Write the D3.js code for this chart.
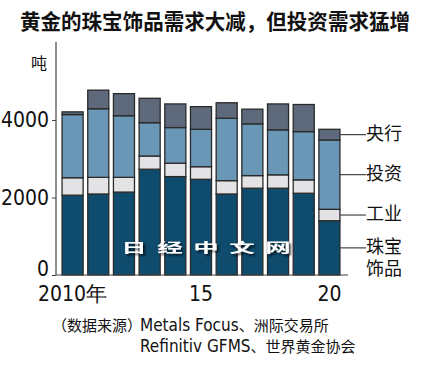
<!DOCTYPE html>
<html><head><meta charset="utf-8">
<script src="https://cdn.jsdelivr.net/npm/d3@7"></script>
<style>
html,body{margin:0;padding:0;background:#fff;}
svg{display:block;}
</style></head>
<body>
<script>
const years = [2010, 2011, 2012, 2013, 2014, 2015, 2016, 2017, 2018, 2019, 2020];
const jewelry = [2060, 2090, 2140, 2730, 2540, 2470, 2090, 2240, 2240, 2110, 1400];
const industry = [450, 430, 380, 340, 345, 325, 345, 325, 345, 345, 295];
const investment = [1630, 1770, 1590, 860, 920, 965, 1610, 1335, 1160, 1245, 1790];
const centralBank = [70, 480, 570, 630, 610, 585, 400, 380, 670, 700, 275];
const seriesNames = ["珠宝饰品", "工业", "投资", "央行"];
const yTicks = [0, 2000, 4000];
const xTickYears = [2010, 2015, 2020];
const xTickLabels = ["2010年", "15", "20"];
const title = "黄金的珠宝饰品需求大减，但投资需求猛增";
const unit = "吨";
const sourceLabel = "（数据来源）";
const sourceLines = [["Metals Focus", "、洲际交易所"], ["Refinitiv GFMS", "、世界黄金协会"]];
const watermark = ["日", "经", "中", "文", "网"];

const colors = ["#0e4b6d", "#e3e3e6", "#6b97b7", "#5e6a7b"];
const numFont = "'Liberation Sans Narrow','Arial Narrow','DejaVu Sans Condensed',sans-serif";
const cjkFont = "'Noto Sans CJK SC','Noto Sans CJK JP',sans-serif";
const legendFont = "'Liberation Sans','Noto Sans CJK SC',sans-serif";

const W = 430, H = 373;
const svg = d3.select("body").append("svg").attr("width", W).attr("height", H);

const table = years.map((y, i) => ({year: y, "珠宝饰品": jewelry[i], "工业": industry[i], "投资": investment[i], "央行": centralBank[i]}));
const stacked = d3.stack().keys(seriesNames)(table);

const x = d3.scaleBand().domain(years).range([59.5, 342.5]).paddingInner(0.18).paddingOuter(0.1);
const y = d3.scaleLinear().domain([0, 4000]).range([275, 120]);

// title
svg.append("text").attr("x", 20).attr("y", 28.5)
  .attr("font-family", cjkFont).attr("font-weight", "bold").attr("font-size", 21)
  .attr("textLength", 390).attr("lengthAdjust", "spacingAndGlyphs")
  .attr("fill", "#111").text(title);

// unit
svg.append("text").attr("x", 31).attr("y", 69)
  .attr("font-family", cjkFont).attr("font-size", 16).attr("fill", "#111").text(unit);

// bars
stacked.forEach((s, k) => {
  svg.append("g").selectAll("rect").data(s).join("rect")
    .attr("x", d => x(d.data.year))
    .attr("y", d => y(d[1]))
    .attr("width", x.bandwidth())
    .attr("height", d => y(d[0]) - y(d[1]))
    .attr("fill", colors[k])
    .attr("stroke", "#2a2a2a")
    .attr("stroke-width", 1.3);
});

// y axis
const yAxis = svg.append("g").attr("transform", "translate(56,0)")
  .call(d3.axisLeft(y).tickValues(yTicks).tickSize(4).tickPadding(3).tickFormat(d3.format("d")));
yAxis.select(".domain").remove();
yAxis.selectAll("line").attr("stroke", "#444");
yAxis.selectAll("text").attr("font-family", numFont).attr("font-size", 21).attr("fill", "#111")
  .attr("dy", d => d === 0 ? "0.04em" : "0.32em");
svg.append("line").attr("x1", 56).attr("x2", 56).attr("y1", 42).attr("y2", y(0))
  .attr("stroke", "#444").attr("stroke-width", 1.2);

// x axis
const xAxis = svg.append("g").attr("transform", `translate(0,${y(0)})`)
  .call(d3.axisBottom(x).tickValues(xTickYears).tickSize(0).tickPadding(11)
    .tickFormat(d => xTickLabels[xTickYears.indexOf(d)]));
xAxis.select(".domain").remove();
xAxis.selectAll("text").attr("font-family", numFont).attr("font-size", 21).attr("fill", "#111")
  .attr("dy", "0.71em");
svg.append("line").attr("x1", 56).attr("x2", 348).attr("y1", y(0)).attr("y2", y(0))
  .attr("stroke", "#444").attr("stroke-width", 1.2);

// legend leaders for last bar
const last = years.length - 1;
const lx = x(years[last]) + x.bandwidth();
stacked.forEach((s, k) => {
  const d = s[last];
  const my = (y(d[0]) + y(d[1])) / 2;
  svg.append("line").attr("x1", lx).attr("x2", 366).attr("y1", my).attr("y2", my)
    .attr("stroke", "#444").attr("stroke-width", 1.2);
  const name = seriesNames[k];
  const lines = name.length > 2 ? [name.slice(0, 2), name.slice(2)] : [name];
  lines.forEach((ln, j) => {
    svg.append("text").attr("x", 366).attr("y", my + j * 22 + 5)
      .attr("font-family", legendFont).attr("font-size", 18).attr("fill", "#111")
      .text(ln);
  });
});

// watermark
const defs = svg.append("defs");
const f = defs.append("filter").attr("id", "sh").attr("x", "-20%").attr("y", "-50%").attr("width", "150%").attr("height", "200%");
f.append("feDropShadow").attr("dx", 2).attr("dy", 2).attr("stdDeviation", 1.2).attr("flood-color", "#000").attr("flood-opacity", 0.7);
const wm = svg.append("g").attr("filter", "url(#sh)");
watermark.forEach((c, i) => {
  wm.append("text").attr("transform", `translate(${134 + i * 36},252) scale(1.7,0.85)`)
    .attr("text-anchor", "middle").attr("font-family", cjkFont).attr("font-weight", "bold")
    .attr("font-size", 15).attr("fill", "#fff").text(c);
});

// source
svg.append("text").attr("x", 52).attr("y", 331)
  .attr("font-family", cjkFont).attr("font-size", 15).attr("fill", "#111").text(sourceLabel);
sourceLines.forEach((l, i) => {
  const t = svg.append("text").attr("x", 140).attr("y", 331 + i * 21).attr("fill", "#111");
  t.append("tspan").attr("font-family", numFont).attr("font-size", 17).text(l[0]);
  t.append("tspan").attr("font-family", cjkFont).attr("font-size", 15).text(l[1]);
});
</script>
</body></html>
